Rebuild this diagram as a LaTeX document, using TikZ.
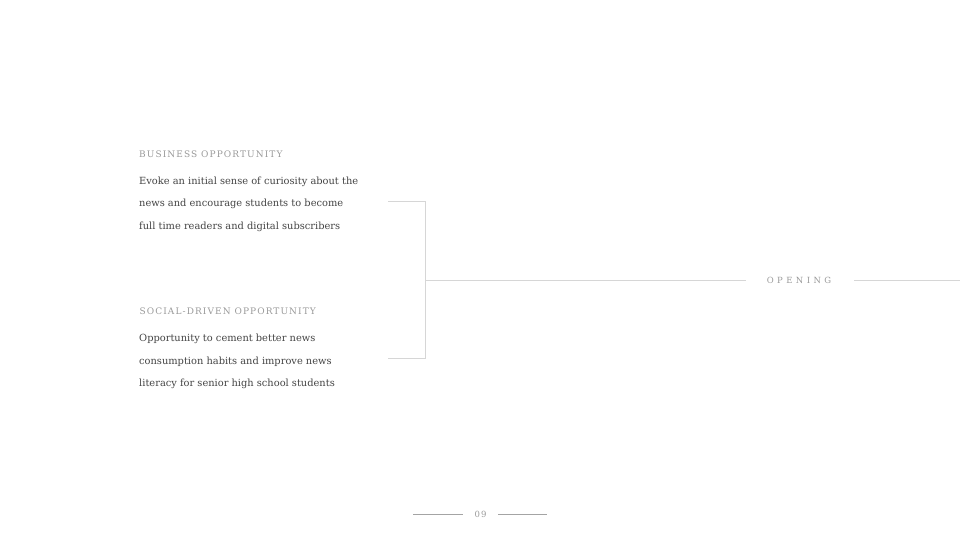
\documentclass[tikz,border=0pt]{standalone}
\usepackage{fontspec}
\setmainfont{DejaVu Serif}
\newfontfamily\headfont[LetterSpace=12]{DejaVu Serif}
\newfontfamily\openfont[LetterSpace=40]{DejaVu Serif}
\definecolor{headgray}{HTML}{9A9A9A}
\definecolor{bodygray}{HTML}{444444}
\definecolor{linegray}{HTML}{D6D6D6}
\begin{document}
\begin{tikzpicture}[x=1pt,y=-1pt,
  headtxt/.style={anchor=west,inner sep=0pt,text=headgray,font=\headfont\fontsize{9}{10}\selectfont},
  bodytxt/.style={anchor=west,inner sep=0pt,text=bodygray,font=\fontsize{9.85}{12}\selectfont},
  conn/.style={draw=linegray,line width=1pt},
  pagetxt/.style={inner sep=0pt,text=headgray,font=\headfont\fontsize{8.5}{10}\selectfont}]
\useasboundingbox (0,0) rectangle (960,540);
\fill[white] (0,0) rectangle (960,540);
% texts
\node[headtxt] (h1) at (139,154) {BUSINESS OPPORTUNITY};
\node[bodytxt] (b1a) at (139,181.5) {Evoke an initial sense of curiosity about the};
\node[bodytxt] (b1b) at (139,204) {news and encourage students to become};
\node[bodytxt] (b1c) at (139,226.5) {full time readers and digital subscribers};
\node[headtxt] (h2) at (139.5,311.5) {SOCIAL-DRIVEN OPPORTUNITY};
\node[bodytxt] (b2a) at (139,339) {Opportunity to cement better news};
\node[bodytxt] (b2b) at (139,361.5) {consumption habits and improve news};
\node[bodytxt] (b2c) at (139,384) {literacy for senior high school students};
% bracket
\coordinate (t0) at (388,201);
\coordinate (t1) at (425,201);
\coordinate (m0) at (425,280);
\coordinate (u0) at (388,358);
\coordinate (u1) at (425,358);
\draw[conn] (t0) -- (t1) -- (u1) -- (u0);
\node[inner sep=0pt,text=headgray,font=\openfont\fontsize{8.5}{10}\selectfont] (op) at (799,280.5) {OPENING};
\coordinate (m1) at (746,280);
\coordinate (r0) at (854,280);
\coordinate (r1) at (960,280);
\draw[conn] (m0) -- (m1);
\draw[conn] (r0) -- (r1);
% page number
\node[pagetxt] (pg) at (480.5,514.5) {09};
\coordinate (p0) at (413,514);
\coordinate (p1) at (463,514);
\coordinate (p2) at (498,514);
\coordinate (p3) at (547,514);
\draw[draw=headgray!90,line width=0.8pt] (p0) -- (p1);
\draw[draw=headgray!90,line width=0.8pt] (p2) -- (p3);
\end{tikzpicture}
\end{document}
